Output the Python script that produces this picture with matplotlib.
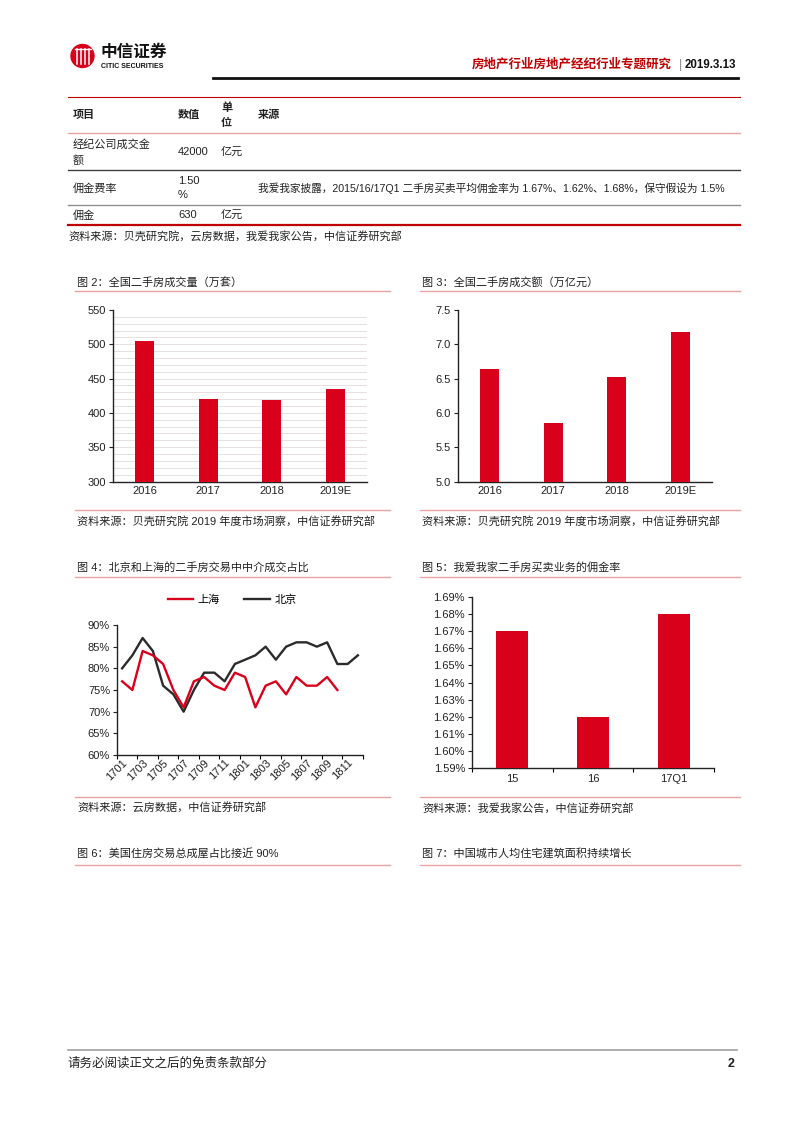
import matplotlib
matplotlib.use("Agg")
import matplotlib.pyplot as plt
from matplotlib.patches import Ellipse
from matplotlib.lines import Line2D
import numpy as np

# ---------------- data ----------------
years = ["2016", "2017", "2018", "2019E"]
volume = [505, 420, 419, 435]            # 万套
amount = [6.64, 5.85, 6.52, 7.18]        # 万亿元

months = ["1701", "1702", "1703", "1704", "1705", "1706", "1707", "1708",
          "1709", "1710", "1711", "1712", "1801", "1802", "1803", "1804",
          "1805", "1806", "1807", "1808", "1809", "1810", "1811", "1812"]
beijing = [80, 83, 87, 84, 76, 74, 70, 75, 79, 79, 77, 81,
           82, 83, 85, 82, 85, 86, 86, 85, 86, 81, 81, 83]
shanghai = [77, 75, 84, 83, 81, 75, 71, 77, 78, 76, 75, 79,
            78, 71, 76, 77, 74, 78, 76, 76, 78, 75]

periods = ["15", "16", "17Q1"]
commission = [1.67, 1.62, 1.68]

table_rows = [
    ["经纪公司成交金\n额", "42000", "亿元", ""],
    ["佣金费率", "1.50\n%", "", "我爱我家披露，2015/16/17Q1 二手房买卖平均佣金率为 1.67%、1.62%、1.68%，保守假设为 1.5%"],
    ["佣金", "630", "亿元", ""],
]
table_header = ["项目", "数值", "单\n位", "来源"]

# ---------------- style ----------------
W, H = 802, 1133
FONT = ["Liberation Sans", "Noto Sans CJK SC", "DejaVu Sans"]
plt.rcParams["font.family"] = FONT
RED = "#D9001B"
DARKRED = "#C00000"
PINK = "#E8A3A3"

fig = plt.figure(figsize=(W / 100, H / 100), dpi=100)


def fx(x):
    return x / W


def fy(y):
    return 1 - y / H


def txt(x, y, s, size=8, color="#222222", weight="normal", ha="left", va="center", **kw):
    fig.text(fx(x), fy(y), s, fontsize=size, color=color, fontweight=weight,
             ha=ha, va=va, family=FONT, **kw)


def hline(y, x0, x1, color, lw):
    fig.add_artist(Line2D([fx(x0), fx(x1)], [fy(y), fy(y)], color=color, lw=lw,
                          transform=fig.transFigure))


def add_axes(left, right, top, bottom):
    return fig.add_axes([fx(left), fy(bottom), fx(right) - fx(left), fy(top) - fy(bottom)])


# ---------------- header ----------------
cx, cy, r = 82.5, 56, 11.5
fig.add_artist(Ellipse((fx(cx), fy(cy)), 2 * r / W, 2 * r / H, transform=fig.transFigure,
                       color=RED, zorder=3))
for dx in (-6, -2, 2, 6):
    fig.add_artist(Line2D([fx(cx + dx), fx(cx + dx)], [fy(cy - 7), fy(cy + 8)],
                          color="white", lw=1.1, transform=fig.transFigure, zorder=4))
fig.add_artist(Line2D([fx(cx - 8), fx(cx + 8)], [fy(cy - 7), fy(cy - 7)], color="white",
                      lw=1.0, transform=fig.transFigure, zorder=4))
txt(100, 52, "中信证券", size=12, weight="bold", color="#111111")
txt(101, 67, "CITIC SECURITIES", size=5, weight="bold", color="#111111")

txt(672, 65, "房地产行业房地产经纪行业专题研究", size=9, weight="bold", color=DARKRED, ha="right")
txt(680, 65, "|", size=9, color="#888888", ha="center")
txt(736, 65, "2019.3.13", size=8.3, weight="bold", color="#111111", ha="right")
hline(78, 213, 738, "#111111", 2.0)

# ---------------- table ----------------
hline(97, 68, 740, DARKRED, 0.8)
hline(133, 68, 740, PINK, 1.0)
hline(170, 68, 740, "#404040", 1.0)
hline(205, 68, 740, "#909090", 1.0)
hline(225, 68, 740, DARKRED, 1.6)

col_x = [73, 178, 221, 258]
for cxx, h in zip(col_x, table_header):
    txt(cxx, 115, h, size=8, weight="bold", linespacing=1.6)
row_y = [152, 188, 215]
for ry, row in zip(row_y, table_rows):
    for cxx, cell in zip(col_x, row):
        if cell:
            sz = 7.7 if len(cell) > 30 else 8
            txt(cxx, ry, cell, size=sz, linespacing=1.6)
txt(68, 237, "资料来源：贝壳研究院，云房数据，我爱我家公告，中信证券研究部", size=8)

# ---------------- section frames ----------------
def frame(x0, x1, title, src, ytitle, yline, ysrcline=None, ysrc=None):
    txt(x0 + 2, ytitle, title, size=8)
    hline(yline, x0, x1, PINK, 1.0)
    if ysrcline is not None:
        hline(ysrcline, x0, x1, PINK, 1.0)
        txt(x0 + 2, ysrc, src, size=8)


frame(75, 390, "图 2：全国二手房成交量（万套）", "资料来源：贝壳研究院 2019 年度市场洞察，中信证券研究部",
      282, 291, 510, 521)
frame(420, 740, "图 3：全国二手房成交额（万亿元）", "资料来源：贝壳研究院 2019 年度市场洞察，中信证券研究部",
      282, 291, 510, 521)
frame(75, 390, "图 4：北京和上海的二手房交易中中介成交占比", "资料来源：云房数据，中信证券研究部",
      567, 577, 797, 808)
frame(420, 740, "图 5：我爱我家二手房买卖业务的佣金率", "资料来源：我爱我家公告，中信证券研究部",
      567, 577, 797, 808)
frame(75, 390, "图 6：美国住房交易总成屋占比接近 90%", "", 853, 865)
frame(420, 740, "图 7：中国城市人均住宅建筑面积持续增长", "", 853, 865)


def style_axes(ax):
    for s in ("top", "right"):
        ax.spines[s].set_visible(False)
    for s in ("left", "bottom"):
        ax.spines[s].set_color("#222222")
        ax.spines[s].set_linewidth(1.0)
    ax.tick_params(axis="y", direction="out", length=3, width=0.8, labelsize=8,
                   colors="#222222", pad=2)
    ax.tick_params(axis="x", labelsize=8, colors="#222222")
    ax.set_facecolor("none")


# ---------------- Figure 2 ----------------
ax2 = add_axes(113, 367, 310, 481.5)
x = np.arange(len(years))
ax2.bar(x, volume, width=0.3, color=RED, zorder=3)
ax2.set_ylim(300, 550)
ax2.set_yticks(range(300, 551, 50))
for g in range(310, 550, 10):
    ax2.axhline(g, color="#E6E0E0", lw=0.7, zorder=1)
ax2.set_xlim(-0.5, len(years) - 0.5)
ax2.set_xticks(x)
ax2.set_xticklabels(years)
style_axes(ax2)
ax2.tick_params(axis="x", length=0, pad=3)

# ---------------- Figure 3 ----------------
ax3 = add_axes(458, 712, 310, 481.5)
ax3.bar(x, amount, width=0.3, color=RED, zorder=3)
ax3.set_ylim(5.0, 7.5)
ax3.set_yticks(np.arange(5.0, 7.51, 0.5))
ax3.set_yticklabels([f"{v:.1f}" for v in np.arange(5.0, 7.51, 0.5)])
ax3.set_xlim(-0.5, len(years) - 0.5)
ax3.set_xticks(x)
ax3.set_xticklabels(years)
style_axes(ax3)
ax3.tick_params(axis="x", length=0, pad=3)

# ---------------- Figure 4 ----------------
ax4 = add_axes(117, 363, 625, 755)
xm = np.arange(len(months))
ax4.plot(np.arange(len(shanghai)), shanghai, color=RED, lw=1.7, label="上海", zorder=3)
ax4.plot(xm, beijing, color="#2B2B2B", lw=1.7, label="北京", zorder=2)
ax4.set_ylim(60, 90)
ax4.set_yticks(range(60, 91, 5))
ax4.set_yticklabels([f"{v}%" for v in range(60, 91, 5)])
ax4.set_xlim(-0.5, len(months) - 0.5)
ax4.set_xticks(xm[::2])
ax4.set_xticklabels(months[::2], rotation=45, ha="right", va="top",
                    rotation_mode="anchor")
ax4.set_xticks(np.arange(-0.5, len(months), 2), minor=True)
style_axes(ax4)
ax4.tick_params(axis="x", which="major", length=0, pad=2)
ax4.tick_params(axis="x", which="minor", length=3, width=0.8, direction="out")
leg = ax4.legend(loc="center", bbox_to_anchor=(fx(232), fy(600)),
                 bbox_transform=fig.transFigure, ncol=2, frameon=False,
                 fontsize=8, handlelength=2.3, columnspacing=2.2, handletextpad=0.4)
for t in leg.get_texts():
    t.set_family(FONT)

# ---------------- Figure 5 ----------------
ax5 = add_axes(472, 714, 597, 768)
xp = np.arange(len(periods))
ax5.bar(xp, commission, width=0.4, color=RED, zorder=3)
ax5.set_ylim(1.59, 1.69)
yt = np.round(np.arange(1.59, 1.6901, 0.01), 2)
ax5.set_yticks(yt)
ax5.set_yticklabels([f"{v:.2f}%" for v in yt])
ax5.set_xlim(-0.5, len(periods) - 0.5)
ax5.set_xticks(xp)
ax5.set_xticklabels(periods)
ax5.set_xticks(np.arange(-0.5, len(periods), 1), minor=True)
style_axes(ax5)
ax5.tick_params(axis="x", which="major", length=0, pad=4)
ax5.tick_params(axis="x", which="minor", length=3, width=0.8, direction="out")

# ---------------- footer ----------------
hline(1050, 68, 737, "#A0A0A0", 1.2)
txt(68, 1064, "请务必阅读正文之后的免责条款部分", size=9)
txt(735, 1064, "2", size=9, weight="bold", ha="right")

fig.savefig("out.png", dpi=100)
